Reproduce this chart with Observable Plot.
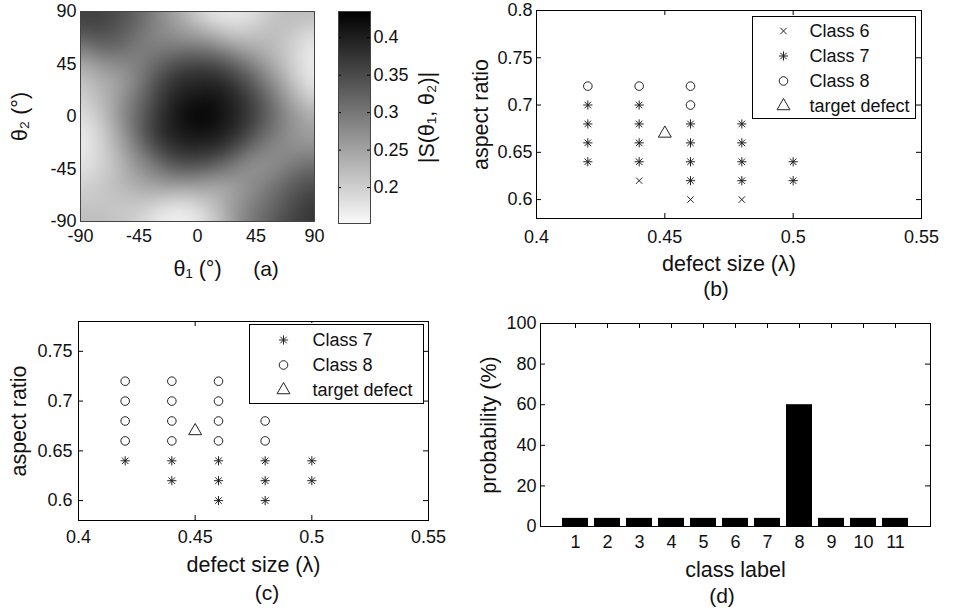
<!DOCTYPE html>
<html><head><meta charset="utf-8">
<script src="https://cdn.jsdelivr.net/npm/d3@7"></script>
<script src="https://cdn.jsdelivr.net/npm/@observablehq/plot@0.6"></script>
<style>
html,body{margin:0;padding:0;background:#fff;}
#fig{position:relative;width:974px;height:616px;overflow:hidden;font-family:"Liberation Sans",Arial,sans-serif;color:#111;background:#fff;}
.panel{position:absolute;}
.panel svg{overflow:visible;display:block;}
.tag{position:absolute;font-size:21px;transform:translate(-50%,-50%);line-height:1;white-space:nowrap;}
g[aria-label$="tick label"]{font-size:18px;}
g[aria-label$="axis label"]{font-size:21.5px;}
</style></head><body><div id="fig"></div>
<script>
// ---------- data ----------
// (a) |S(θ1, θ2)| read on a 15° grid; rows run from θ2 = 90 down to θ2 = -90, columns θ1 = -90 … 90
const theta = [-90,-75,-60,-45,-30,-15,0,15,30,45,60,75,90];
const theta2Rows = [90,75,60,45,30,15,0,-15,-30,-45,-60,-75,-90];
const S = [
  [0.364,0.364,0.350,0.322,0.279,0.237,0.194,0.166,0.166,0.180,0.209,0.223,0.223],
  [0.350,0.356,0.336,0.308,0.279,0.260,0.237,0.209,0.194,0.209,0.223,0.209,0.194],
  [0.294,0.322,0.322,0.294,0.294,0.294,0.294,0.279,0.251,0.237,0.223,0.194,0.166],
  [0.237,0.265,0.279,0.294,0.322,0.350,0.356,0.350,0.322,0.279,0.237,0.194,0.166],
  [0.209,0.237,0.251,0.294,0.350,0.384,0.393,0.393,0.364,0.322,0.265,0.209,0.166],
  [0.194,0.223,0.265,0.308,0.364,0.401,0.412,0.412,0.393,0.350,0.294,0.237,0.194],
  [0.180,0.209,0.265,0.322,0.378,0.412,0.435,0.421,0.393,0.356,0.308,0.265,0.237],
  [0.166,0.194,0.251,0.322,0.378,0.407,0.412,0.407,0.384,0.336,0.294,0.265,0.251],
  [0.166,0.194,0.237,0.294,0.350,0.378,0.384,0.373,0.336,0.294,0.279,0.279,0.279],
  [0.180,0.194,0.223,0.265,0.294,0.327,0.327,0.308,0.279,0.265,0.279,0.308,0.322],
  [0.194,0.209,0.223,0.237,0.251,0.251,0.251,0.237,0.251,0.279,0.308,0.336,0.350],
  [0.209,0.209,0.209,0.209,0.194,0.180,0.194,0.223,0.265,0.294,0.322,0.350,0.373],
  [0.223,0.223,0.209,0.194,0.166,0.158,0.166,0.209,0.265,0.308,0.336,0.364,0.378]
];
const thetaTicks = [-90,-45,0,45,90];
const colorDomain = [0.152,0.435];
const colorbarTicks = [0.2,0.25,0.3,0.35,0.4];

// (b), (c) points [defect size (λ), aspect ratio]
const sizeTicks = [0.4,0.45,0.5,0.55];
const ratioTicksB = [0.6,0.65,0.7,0.75,0.8];
const ratioTicksC = [0.6,0.65,0.7,0.75];
const legendB = ["Class 6","Class 7","Class 8","target defect"];
const legendC = ["Class 7","Class 8","target defect"];
const bClass6 = [[0.44,0.62],[0.46,0.60],[0.48,0.60]];
const bClass7 = [[0.42,0.70],[0.42,0.68],[0.42,0.66],[0.42,0.64],
                 [0.44,0.70],[0.44,0.68],[0.44,0.66],[0.44,0.64],
                 [0.46,0.68],[0.46,0.66],[0.46,0.64],[0.46,0.62],
                 [0.48,0.68],[0.48,0.66],[0.48,0.64],[0.48,0.62],
                 [0.50,0.64],[0.50,0.62]];
const bClass8 = [[0.42,0.72],[0.44,0.72],[0.46,0.72],[0.46,0.70]];
const cClass7 = [[0.42,0.64],[0.44,0.64],[0.44,0.62],[0.46,0.64],[0.46,0.62],[0.46,0.60],
                 [0.48,0.64],[0.48,0.62],[0.48,0.60],[0.50,0.64],[0.50,0.62]];
const cClass8 = [[0.42,0.72],[0.42,0.70],[0.42,0.68],[0.42,0.66],
                 [0.44,0.72],[0.44,0.70],[0.44,0.68],[0.44,0.66],
                 [0.46,0.72],[0.46,0.70],[0.46,0.68],[0.46,0.66],
                 [0.48,0.68],[0.48,0.66]];
const targetDefect = [[0.45,0.67]];

// (d)
const classLabels = [1,2,3,4,5,6,7,8,9,10,11];
const probability = [4,4,4,4,4,4,4,60,4,4,4];
const probTicks = [0,20,40,60,80,100];

// ---------- styles ----------
const FONT = "Liberation Sans, Arial, Helvetica, sans-serif";
const baseStyle = {fontFamily: FONT, fontSize: "18px", color: "#111", background: "transparent", overflow: "visible"};
const INK = "#222";
const asterisk8 = {draw(context, size) {
  const r = Math.sqrt(size / Math.PI), d = r * Math.SQRT1_2;
  context.moveTo(0, -r); context.lineTo(0, r);
  context.moveTo(-r, 0); context.lineTo(r, 0);
  context.moveTo(-d, -d); context.lineTo(d, d);
  context.moveTo(-d, d); context.lineTo(d, -d);
}};
const symbolScale = {domain: ["Class 6","Class 7","Class 8","target defect"], range: ["times", asterisk8, "circle", "triangle"]};
const markerR = {"Class 6": 3, "Class 7": 4.6, "Class 8": 4.3, "target defect": 4.8};

const fig = document.getElementById("fig");
function place(node, left, top) {
  const d = document.createElement("div");
  d.className = "panel"; d.style.left = left + "px"; d.style.top = top + "px";
  d.appendChild(node); fig.appendChild(d);
}
function tag(text, x, y) {
  const d = document.createElement("div");
  d.className = "tag"; d.textContent = text; d.style.left = x + "px"; d.style.top = y + "px";
  fig.appendChild(d);
}
function insideTicks(xt, yt, fw, fh, len) {
  const m = [];
  if (xt) m.push(Plot.tickX(xt, {x: d => d, insetTop: fh - len, stroke: "#000"}),
                 Plot.tickX(xt, {x: d => d, insetBottom: fh - len, stroke: "#000"}));
  if (yt) m.push(Plot.tickY(yt, {y: d => d, insetRight: fw - len, stroke: "#000"}),
                 Plot.tickY(yt, {y: d => d, insetLeft: fw - len, stroke: "#000"}));
  return m;
}
const toPts = (arr, cls) => arr.map(([s, a]) => ({size: s, ratio: a, cls}));

// ---------- (a) heat map ----------
const heatPoints = [];
S.forEach((row, i) => row.forEach((v, j) => heatPoints.push({t1: theta[j], t2: theta2Rows[i], v})));
const colorScale = {type: "linear", domain: colorDomain, range: ["#fafafa", "#000"]};
place(Plot.plot({
  width: 330, height: 290, marginLeft: 80, marginTop: 11, marginRight: 16, marginBottom: 69,
  style: baseStyle,
  x: {domain: [-90, 90]}, y: {domain: [-90, 90]}, color: colorScale,
  marks: [
    Plot.raster(heatPoints, {x: "t1", y: "t2", fill: "v", interpolate: "barycentric", blur: 7}),
    Plot.frame({stroke: "#444"}),
    Plot.axisX(thetaTicks, {tickSize: 0, tickPadding: 8, tickFormat: String, label: "θ₁ (°)", labelAnchor: "center", labelOffset: 54, labelArrow: "none"}),
    Plot.axisY(thetaTicks, {tickSize: 0, tickPadding: 4, tickFormat: String, label: "θ₂ (°)", labelAnchor: "center", labelOffset: 69, labelArrow: "none"})
  ]
}), 0, 0);

// colour bar
place(Plot.plot({
  width: 100, height: 290, marginLeft: 8, marginTop: 11, marginRight: 60, marginBottom: 67,
  style: baseStyle,
  x: {domain: [0, 1], axis: null}, y: {domain: colorDomain}, color: colorScale,
  marks: [
    Plot.raster({fill: (x, y) => y, x1: 0, x2: 1, y1: colorDomain[0], y2: colorDomain[1]}),
    ...insideTicks(null, colorbarTicks, 32, 212, 3),
    Plot.frame({stroke: "#444"}),
    Plot.axisY(colorbarTicks, {anchor: "right", tickSize: 0, tickPadding: 3, tickFormat: String, label: "|S(θ₁, θ₂)|", labelAnchor: "center", labelOffset: 63, labelArrow: "none"})
  ]
}), 330, 0);
tag("(a)", 266, 268);

// ---------- (b) ----------
const ptsB = [...toPts(bClass6, "Class 6"), ...toPts(bClass7, "Class 7"), ...toPts(bClass8, "Class 8"), ...toPts(targetDefect, "target defect")];
place(Plot.plot({
  width: 554, height: 275, marginLeft: 116, marginTop: 10, marginRight: 53, marginBottom: 57,
  style: baseStyle,
  x: {domain: [0.4, 0.55]}, y: {domain: [0.58, 0.8]}, symbol: symbolScale, r: {type: "identity"},
  marks: [
    Plot.frame({stroke: "#000"}),
    ...insideTicks(sizeTicks, ratioTicksB, 385, 208, 5),
    Plot.axisX(sizeTicks, {tickSize: 0, tickPadding: 12, tickFormat: String, label: "defect size (λ)", labelAnchor: "center", labelOffset: 52, labelArrow: "none"}),
    Plot.axisY(ratioTicksB, {tickSize: 0, tickPadding: 4, tickFormat: String, label: "aspect ratio", labelAnchor: "center", labelOffset: 64, labelArrow: "none"}),
    Plot.dot(ptsB, {x: "size", y: "ratio", symbol: "cls", r: d => markerR[d.cls], fill: "none", stroke: INK, strokeWidth: 1})
  ]
}), 420, 0);
function legendPlot(items, w, h, dxSym, dxText) {
  const data = items.map(cls => ({cls}));
  return Plot.plot({
    width: w, height: h, margin: 1,
    style: {...baseStyle, background: "#fff"},
    x: {axis: null}, y: {type: "band", domain: items, padding: 0, insetTop: 2, axis: null},
    symbol: symbolScale, r: {type: "identity"},
    marks: [
      Plot.frame({stroke: "#000"}),
      Plot.dot(data, {y: "cls", symbol: "cls", r: d => markerR[d.cls], frameAnchor: "left", dx: dxSym, fill: "none", stroke: INK, strokeWidth: 1}),
      Plot.text(data, {y: "cls", text: "cls", frameAnchor: "left", dx: dxText, textAnchor: "start", fontSize: 18, fill: "#111"})
    ]
  });
}
place(legendPlot(legendB, 165, 104, 31, 57), 751, 15);
tag("(b)", 716, 288);

// ---------- (c) ----------
const ptsC = [...toPts(cClass7, "Class 7"), ...toPts(cClass8, "Class 8"), ...toPts(targetDefect, "target defect")];
place(Plot.plot({
  width: 460, height: 275, marginLeft: 78, marginTop: 21, marginRight: 32, marginBottom: 55,
  style: baseStyle,
  x: {domain: [0.4, 0.55]}, y: {domain: [0.58, 0.78]}, symbol: symbolScale, r: {type: "identity"},
  marks: [
    Plot.frame({stroke: "#000"}),
    ...insideTicks(sizeTicks, ratioTicksC, 350, 199, 5),
    Plot.axisX(sizeTicks, {tickSize: 0, tickPadding: 10, tickFormat: String, label: "defect size (λ)", labelAnchor: "center", labelOffset: 51, labelArrow: "none"}),
    Plot.axisY(ratioTicksC, {tickSize: 0, tickPadding: 6, tickFormat: String, label: "aspect ratio", labelAnchor: "center", labelOffset: 68, labelArrow: "none"}),
    Plot.dot(ptsC, {x: "size", y: "ratio", symbol: "cls", r: d => markerR[d.cls], fill: "none", stroke: INK, strokeWidth: 1})
  ]
}), 0, 300);
place(legendPlot(legendC, 176, 81, 34, 63), 248, 323);
tag("(c)", 267, 592);

// ---------- (d) ----------
const barData = classLabels.map((c, i) => ({cls: c, p: probability[i]}));
place(Plot.plot({
  width: 544, height: 280, marginLeft: 110, marginTop: 23, marginRight: 44, marginBottom: 54,
  style: baseStyle,
  x: {type: "band", domain: classLabels, paddingInner: 0.2, paddingOuter: 0.6},
  y: {domain: [0, 100]},
  marks: [
    Plot.barY(barData, {x: "cls", y: "p", fill: "#000"}),
    Plot.frame({stroke: "#000"}),
    ...insideTicks(classLabels, probTicks, 390, 203, 5),
    Plot.axisX(classLabels, {tickSize: 0, tickPadding: 9, tickFormat: String, label: "class label", labelAnchor: "center", labelOffset: 50, labelArrow: "none"}),
    Plot.axisY(probTicks, {tickSize: 0, tickPadding: 4, tickFormat: String, label: "probability (%)", labelAnchor: "center", labelOffset: 60, labelArrow: "none"})
  ]
}), 430, 300);
tag("(d)", 722, 595);
</script></body></html>
